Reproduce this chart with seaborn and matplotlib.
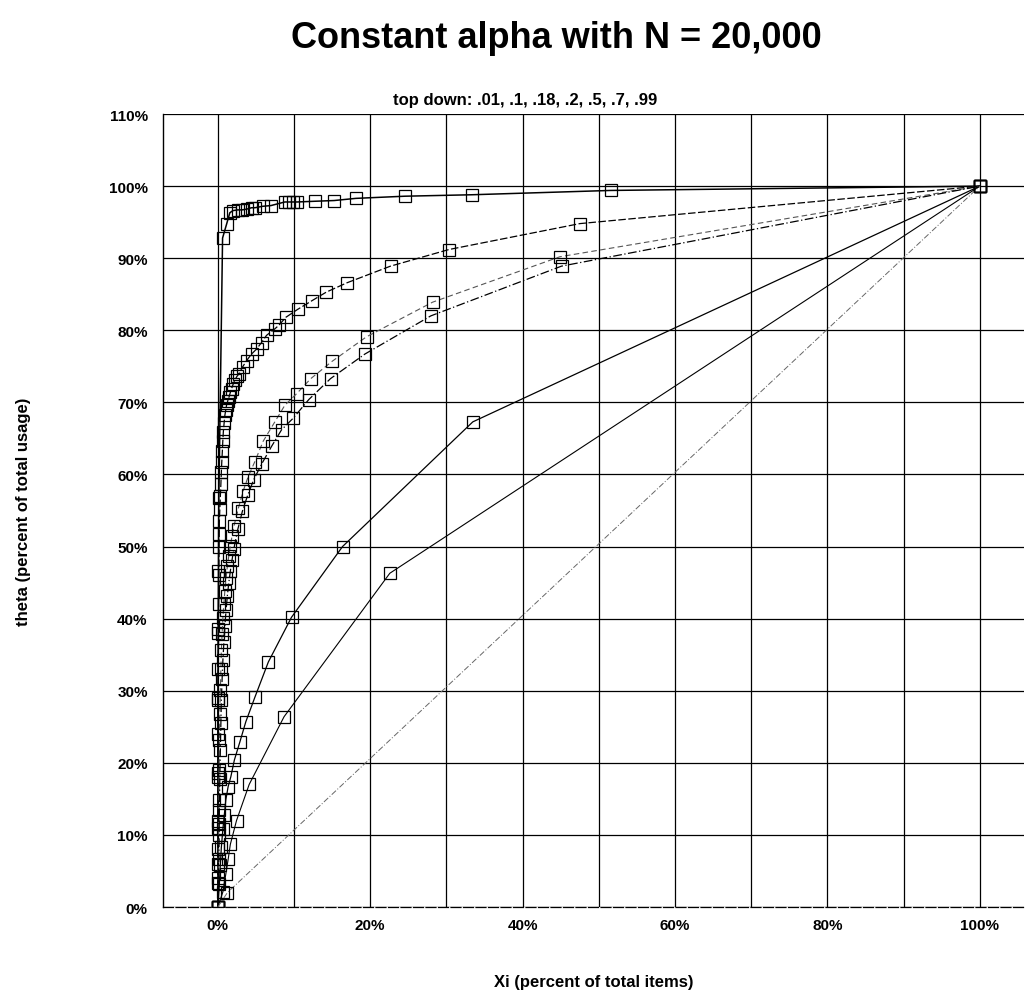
import numpy as np
import pandas as pd
import matplotlib
matplotlib.use("Agg")
import matplotlib.pyplot as plt
import seaborn as sns

# ---- data (fractions) ----
alpha_labels = [".01", ".1", ".18", ".2", ".5", ".7", ".99"]

x_01 = [0.0, 0.0, 0.0, 0.0, 0.0005, 0.0008, 0.001, 0.0013, 0.0062, 0.0114, 0.0157, 0.0197,
        0.0259, 0.0315, 0.0377, 0.0442, 0.0486, 0.0587, 0.0696, 0.0879, 0.0936, 0.0988,
        0.1041, 0.1273, 0.1526, 0.1811, 0.2454, 0.3329, 0.5157, 1.0]
y_01 = [0.0, 0.11, 0.186, 0.287, 0.385, 0.466, 0.517, 0.567, 0.928, 0.947, 0.963, 0.966,
        0.967, 0.967, 0.968, 0.970, 0.970, 0.972, 0.973, 0.978, 0.978, 0.978,
        0.978, 0.979, 0.980, 0.983, 0.986, 0.988, 0.994, 1.0]

x_1 = [0.0, 0.0001, 0.0002, 0.0003, 0.0004, 0.0005, 0.0006, 0.0008, 0.001, 0.0013, 0.0016,
       0.002, 0.0026, 0.0033, 0.0040, 0.0046, 0.0052, 0.0059, 0.0065, 0.0072, 0.0082,
       0.0092, 0.0103, 0.0114, 0.0130, 0.0148, 0.0164, 0.0180, 0.0200, 0.0223, 0.0250,
       0.0280, 0.0324, 0.0377, 0.0442, 0.0508, 0.0573, 0.0639, 0.0748, 0.0801, 0.0892,
       0.1047, 0.1234, 0.1424, 0.1697, 0.2266, 0.3031, 0.4751, 1.0]
y_1 = [0.0, 0.06, 0.12, 0.18, 0.24, 0.29, 0.33, 0.38, 0.42, 0.46, 0.50,
       0.535, 0.552, 0.570, 0.587, 0.604, 0.618, 0.632, 0.646, 0.659, 0.671,
       0.682, 0.689, 0.696, 0.702, 0.708, 0.714, 0.719, 0.725, 0.731, 0.736,
       0.740, 0.749, 0.758, 0.767, 0.774, 0.783, 0.793, 0.802, 0.807, 0.818,
       0.829, 0.841, 0.853, 0.866, 0.889, 0.912, 0.948, 1.0]

x_18 = [0.0, 0.0003, 0.0007, 0.001, 0.0013, 0.0017, 0.0020, 0.0026, 0.0033, 0.0040, 0.0046,
        0.0056, 0.0066, 0.0079, 0.0092, 0.0108, 0.0125, 0.0144, 0.0164, 0.0187, 0.0210,
        0.0269, 0.0332, 0.0398, 0.0486, 0.0594, 0.0748, 0.0879, 0.1033, 0.1220, 0.1500,
        0.1951, 0.2818, 0.4488, 1.0]
y_18 = [0.0, 0.040, 0.080, 0.115, 0.149, 0.190, 0.232, 0.268, 0.301, 0.330, 0.356,
        0.379, 0.401, 0.420, 0.439, 0.456, 0.473, 0.487, 0.501, 0.515, 0.528,
        0.553, 0.577, 0.597, 0.618, 0.646, 0.673, 0.696, 0.712, 0.733, 0.757,
        0.791, 0.839, 0.902, 1.0]

x_2 = [0.0, 0.0006, 0.0013, 0.0017, 0.0020, 0.0026, 0.0033, 0.0040, 0.0046, 0.0056, 0.0066,
       0.0079, 0.0092, 0.0108, 0.0125, 0.0144, 0.0164, 0.0187, 0.0210, 0.0262,
       0.0322, 0.0394, 0.0472, 0.0577, 0.0705, 0.0836, 0.0988, 0.1194, 0.1479, 0.1929,
       0.2795, 0.4510, 1.0]
y_2 = [0.0, 0.033, 0.066, 0.100, 0.135, 0.178, 0.218, 0.255, 0.287, 0.316, 0.342,
       0.367, 0.390, 0.412, 0.432, 0.450, 0.466, 0.482, 0.497, 0.524,
       0.549, 0.572, 0.593, 0.615, 0.639, 0.662, 0.678, 0.704, 0.733, 0.767,
       0.820, 0.889, 1.0]

x_5 = [0.0, 0.002, 0.0033, 0.0046, 0.0066, 0.0085, 0.0105, 0.0135, 0.0171, 0.0217, 0.0289,
       0.0367, 0.0486, 0.0663, 0.0967, 0.1636, 0.3346, 1.0]
y_5 = [0.0, 0.032, 0.059, 0.083, 0.108, 0.128, 0.149, 0.167, 0.181, 0.204, 0.229,
       0.257, 0.291, 0.340, 0.402, 0.500, 0.673, 1.0]

x_7 = [0.0, 0.0066, 0.0105, 0.0135, 0.0164, 0.0245, 0.0411, 0.0869, 0.2257, 1.0]
y_7 = [0.0, 0.021, 0.046, 0.066, 0.087, 0.120, 0.170, 0.264, 0.463, 1.0]

x_99 = [0.0, 0.0125, 1.0]
y_99 = [0.0, 0.020, 1.0]

series_x = [x_01, x_1, x_18, x_2, x_5, x_7, x_99]
series_y = [y_01, y_1, y_18, y_2, y_5, y_7, y_99]

x_ticks = [0.0, 0.1, 0.2, 0.3, 0.4, 0.5, 0.6, 0.7, 0.8, 0.9, 1.0]
x_tick_labels = ["0%", "", "20%", "", "40%", "", "60%", "", "80%", "", "100%"]
y_ticks = [0.0, 0.1, 0.2, 0.3, 0.4, 0.5, 0.6, 0.7, 0.8, 0.9, 1.0, 1.1]
y_tick_labels = ["0%", "10%", "20%", "30%", "40%", "50%", "60%", "70%", "80%", "90%", "100%", "110%"]

# ---- styling ----
sns.set_theme(style="white")
plt.rcParams["font.family"] = ["Liberation Sans", "DejaVu Sans"]
plt.rcParams["text.color"] = "black"
plt.rcParams["axes.labelcolor"] = "black"
plt.rcParams["xtick.color"] = "black"
plt.rcParams["ytick.color"] = "black"

line_styles = {
    ".01": dict(color="black", linestyle="-", linewidth=1.1),
    ".1": dict(color="black", linestyle=(0, (6, 2)), linewidth=0.9),
    ".18": dict(color="#555555", linestyle=(0, (5, 3)), linewidth=0.8),
    ".2": dict(color="black", linestyle=(0, (7, 2, 1, 2)), linewidth=0.9),
    ".5": dict(color="black", linestyle="-", linewidth=0.9),
    ".7": dict(color="black", linestyle="-", linewidth=0.8),
    ".99": dict(color="#666666", linestyle=(0, (6, 2, 1, 2)), linewidth=0.7),
}

fig = plt.figure(figsize=(10.27, 9.95), dpi=100)
ax = fig.add_axes([0.1587, 0.0874, 0.8384, 0.797])

for lab, xs, ys in zip(alpha_labels, series_x, series_y):
    df = pd.DataFrame({"Xi": xs, "theta": ys})
    st = line_styles[lab]
    sns.lineplot(data=df, x="Xi", y="theta", ax=ax, sort=False, estimator=None,
                 color=st["color"], linestyle=st["linestyle"], linewidth=st["linewidth"],
                 marker="s", markersize=9, markerfacecolor="none",
                 markeredgecolor="black", markeredgewidth=0.9, zorder=3)

ax.set_xlim(-0.072, 1.058)
ax.set_ylim(0, 1.1)
ax.set_xticks(x_ticks)
ax.set_xticklabels(x_tick_labels, fontsize=11, fontweight="bold", color="black")
ax.set_yticks(y_ticks)
ax.set_yticklabels(y_tick_labels, fontsize=11, fontweight="bold", color="black")
ax.tick_params(axis="both", length=0)
ax.tick_params(axis="y", pad=11)
ax.tick_params(axis="x", pad=8)
ax.grid(True, color="black", linewidth=0.9, linestyle="-")
ax.set_axisbelow(True)

ax.spines["right"].set_visible(False)
ax.spines["top"].set_visible(False)
ax.spines["left"].set_color("black")
ax.spines["left"].set_linewidth(1.0)
ax.spines["bottom"].set_color("black")
ax.spines["bottom"].set_linewidth(0.9)
ax.spines["bottom"].set_linestyle((0, (8, 2)))

ax.set_xlabel("Xi (percent of total items)", fontsize=12, fontweight="bold",
              labelpad=30, color="black")
ax.set_ylabel("theta (percent of total usage)", fontsize=12, fontweight="bold",
              labelpad=56, color="black")

fig.text(0.542, 1 - 38 / 995, "Constant alpha with N = 20,000", ha="center", va="center",
         fontsize=26, fontweight="bold", color="black")
fig.text(0.511, 1 - 100 / 995, "top down: .01, .1, .18, .2, .5, .7, .99", ha="center",
         va="center", fontsize=12, fontweight="bold", color="black")

fig.savefig("out.png", dpi=100, facecolor="white")
